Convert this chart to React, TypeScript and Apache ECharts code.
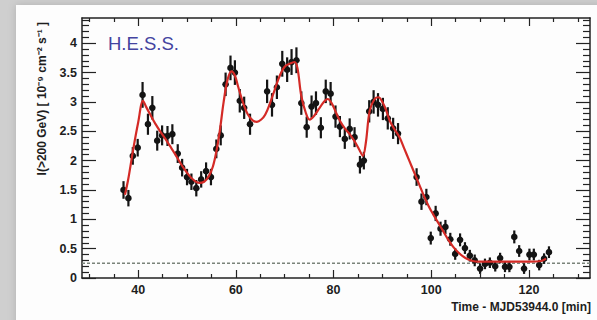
import { useEffect, useRef } from "react";
import * as echarts from "echarts";

// ---- data ----
const times = [
  37.0, 38.0, 38.9, 39.9, 40.9, 42.0, 42.9, 43.9, 44.9, 46.0, 47.0, 48.1, 49.0, 50.0, 50.9, 51.9,
  52.9, 53.9, 54.9, 56.0, 56.9, 57.9, 58.9, 59.8, 60.8, 61.7, 62.9,
  66.4, 67.4, 68.4, 69.5, 70.5, 71.4, 72.4, 73.4, 74.5, 75.5, 76.4, 77.4, 78.4, 79.4, 80.4,
  81.3, 82.3, 83.3, 84.3, 85.4, 86.2, 87.3, 88.2, 89.1, 90.1, 91.1, 92.2, 93.2,
  97.0, 98.0, 99.0, 99.9, 100.9, 101.9, 102.9, 103.9, 104.9, 105.9, 106.9, 107.9, 108.9,
  110.0, 111.0, 112.0, 113.1, 114.1, 115.1, 116.0, 117.0, 118.0, 119.0, 120.1, 121.0, 122.1,
  123.1, 124.1,
];
const fluxes = [
  1.5, 1.36, 2.08, 2.22, 3.12, 2.62, 2.9, 2.34, 2.43, 2.42, 2.45, 2.12, 1.88, 1.72, 1.64, 1.53,
  1.68, 1.82, 1.72, 2.2, 2.43, 3.3, 3.58, 3.5, 3.02, 2.9, 2.62,
  3.18, 2.95, 3.25, 3.65, 3.55, 3.68, 3.71, 2.98, 2.57, 2.92, 2.98, 2.56, 3.18, 3.14, 2.75,
  2.58, 2.37, 2.54, 2.4, 1.93, 2.0, 2.84, 3.0, 2.95, 2.88, 2.72, 2.55, 2.46,
  1.72, 1.3, 1.38, 0.68, 1.1, 0.84, 0.87, 0.66, 0.41, 0.65, 0.51, 0.38, 0.3,
  0.16, 0.24, 0.26, 0.2, 0.34, 0.19, 0.19, 0.7, 0.46, 0.16, 0.4, 0.4, 0.22,
  0.33, 0.44,
];
const errors = [
  0.15, 0.14, 0.15, 0.15, 0.22, 0.18, 0.2, 0.17, 0.17, 0.17, 0.17, 0.16, 0.15, 0.14, 0.14, 0.14,
  0.14, 0.15, 0.14, 0.16, 0.17, 0.2, 0.21, 0.21, 0.2, 0.19, 0.18,
  0.2, 0.2, 0.2, 0.22, 0.21, 0.22, 0.22, 0.2, 0.18, 0.19, 0.2, 0.18, 0.2, 0.2, 0.19,
  0.18, 0.17, 0.18, 0.17, 0.15, 0.15, 0.19, 0.2, 0.2, 0.19, 0.19, 0.18, 0.18,
  0.15, 0.14, 0.14, 0.11, 0.13, 0.12, 0.12, 0.11, 0.1, 0.11, 0.1, 0.1, 0.1,
  0.09, 0.09, 0.09, 0.09, 0.09, 0.09, 0.09, 0.11, 0.1, 0.09, 0.1, 0.1, 0.09,
  0.09, 0.1,
];
const timeHalfWidth = 0.5;

const fitTimes = [
  37.3, 38.0, 39.0, 40.0, 41.0, 41.6, 42.5, 43.5, 44.5, 45.5, 46.5, 47.5, 48.5, 49.5, 50.5, 51.5,
  52.5, 53.5, 54.5, 55.3, 56.0, 56.7, 57.5, 58.3, 59.1, 59.8, 60.5, 61.5, 62.5, 63.5, 64.3, 65.2,
  66.0, 67.0, 68.0, 69.0, 70.0, 71.0, 72.0, 72.6, 73.4, 74.3, 75.1, 76.0, 77.0, 78.0, 78.8, 79.6,
  80.5, 81.3, 82.3, 83.3, 84.3, 85.3, 86.0, 86.6, 87.4, 88.4, 89.2, 90.0, 90.8, 91.5, 92.5, 93.5,
  94.5, 95.5, 96.5, 97.5, 98.5, 99.5, 100.5, 101.5, 102.5, 103.5, 104.5, 105.5, 106.5, 107.5,
  108.5, 109.5, 111.0, 114.0, 117.0, 120.0, 122.5, 123.5,
];
const fitValues = [
  1.42, 1.7, 2.2, 2.65, 3.02, 2.92, 2.78, 2.63, 2.5, 2.38, 2.25, 2.12, 1.98, 1.85, 1.74, 1.66,
  1.62, 1.64, 1.74, 1.9, 2.15, 2.5, 3.0, 3.38, 3.52, 3.45, 3.25, 2.98, 2.78, 2.68, 2.66, 2.7,
  2.78, 2.98, 3.22, 3.45, 3.6, 3.65, 3.68, 3.58, 3.1, 2.82, 2.7, 2.76, 2.88, 3.0, 3.05, 2.98,
  2.82, 2.68, 2.55, 2.45, 2.33, 2.18, 2.08, 2.3, 2.85, 3.05, 3.08, 3.0, 2.85, 2.68, 2.53, 2.4,
  2.2, 2.0, 1.8, 1.6, 1.4, 1.22, 1.07, 0.93, 0.79, 0.65, 0.53, 0.44, 0.37, 0.32,
  0.29, 0.28, 0.28, 0.28, 0.28, 0.28, 0.29, 0.33,
];
const baselineLevel = 0.25;

const xLabelValues = [40, 60, 80, 100, 120];
const xMinorValues = [30, 35, 45, 50, 55, 65, 70, 75, 85, 90, 95, 105, 110, 115, 125, 130];
const yLabelValues = [0, 0.5, 1, 1.5, 2, 2.5, 3, 3.5, 4];
const yMinorValues = [
  0.1, 0.2, 0.3, 0.4, 0.6, 0.7, 0.8, 0.9, 1.1, 1.2, 1.3, 1.4, 1.6, 1.7, 1.8, 1.9, 2.1, 2.2, 2.3,
  2.4, 2.6, 2.7, 2.8, 2.9, 3.1, 3.2, 3.3, 3.4, 3.6, 3.7, 3.8, 3.9, 4.1, 4.2, 4.3, 4.4,
];

const xTitle = "Time - MJD53944.0 [min]";
const yTitle = "I(>200 GeV) [ 10⁻⁹ cm⁻² s⁻¹ ]";
const experiment = "H.E.S.S.";

const X_MIN = 28.5;
const X_MAX = 132.5;
const Y_MIN = 0;
const Y_MAX = 4.43;

const FONT = "'Liberation Sans', Arial, Helvetica, sans-serif";
const AXIS_COLOR = "#222";

function xAxisDef(position: string, ticks: number[], len: number, line: boolean, labels: boolean) {
  return {
    type: "value",
    position,
    min: X_MIN,
    max: X_MAX,
    splitLine: { show: false },
    axisLine: { show: line, onZero: false, lineStyle: { color: AXIS_COLOR, width: 1.5 } },
    axisTick: {
      show: true,
      inside: true,
      length: len,
      customValues: ticks,
      lineStyle: { color: AXIS_COLOR, width: 1.2 },
    },
    axisLabel: labels
      ? {
          show: true,
          customValues: xLabelValues,
          margin: 5,
          color: "#1e1e1e",
          fontFamily: FONT,
          fontWeight: "bold",
          fontSize: 12.5,
        }
      : { show: false },
  };
}

function yAxisDef(position: string, ticks: number[], len: number, line: boolean, labels: boolean) {
  return {
    type: "value",
    position,
    min: Y_MIN,
    max: Y_MAX,
    splitLine: { show: false },
    axisLine: { show: line, onZero: false, lineStyle: { color: AXIS_COLOR, width: 1.5 } },
    axisTick: {
      show: true,
      inside: true,
      length: len,
      customValues: ticks,
      lineStyle: { color: AXIS_COLOR, width: 1.2 },
    },
    axisLabel: labels
      ? {
          show: true,
          customValues: yLabelValues,
          margin: 5,
          color: "#1e1e1e",
          fontFamily: FONT,
          fontWeight: "bold",
          fontSize: 12.5,
        }
      : { show: false },
  };
}

export default function App() {
  const ref = useRef<HTMLDivElement>(null);

  useEffect(() => {
    if (!ref.current) return;
    const chart = echarts.init(ref.current, null, { renderer: "svg" });

    const points = times.map((t, i) => [t, fluxes[i], errors[i]]);
    const fit = fitTimes.map((t, i) => [t, fitValues[i]]);

    chart.setOption({
      animation: false,
      backgroundColor: "#cfcfcf",
      grid: { left: 82, right: 7, top: 18, bottom: 42, containLabel: false, outerBoundsMode: "none" },
      xAxis: [
        xAxisDef("bottom", xLabelValues, 8, true, true),
        xAxisDef("bottom", xMinorValues, 4, false, false),
        xAxisDef("top", xLabelValues, 8, true, false),
        xAxisDef("top", xMinorValues, 4, false, false),
      ],
      yAxis: [
        yAxisDef("left", yLabelValues, 14, true, true),
        yAxisDef("left", yMinorValues, 7, false, false),
        yAxisDef("right", yLabelValues, 14, true, false),
        yAxisDef("right", yMinorValues, 7, false, false),
      ],
      graphic: [
        {
          type: "rect",
          z: -10,
          silent: true,
          shape: { x: 16, y: 5, width: 600, height: 330 },
          style: { fill: "#fdfdfd", shadowBlur: 8, shadowColor: "rgba(0,0,0,0.15)" },
        },
        {
          type: "text",
          x: 108,
          y: 43,
          style: {
            text: experiment,
            fill: "#4444a0",
            fontFamily: FONT,
            fontSize: 18.5,
            textAlign: "left",
            verticalAlign: "middle",
          },
        },
        {
          type: "text",
          x: 591,
          y: 307,
          style: {
            text: xTitle,
            fill: "#1e1e1e",
            fontFamily: FONT,
            fontWeight: "bold",
            fontSize: 12,
            textAlign: "right",
            verticalAlign: "middle",
          },
        },
        {
          type: "text",
          x: 42,
          y: 22,
          rotation: Math.PI / 2,
          style: {
            text: yTitle,
            fill: "#1e1e1e",
            fontFamily: FONT,
            fontWeight: "bold",
            fontSize: 12,
            textAlign: "right",
            verticalAlign: "middle",
          },
        },
      ],
      series: [
        {
          type: "line",
          xAxisIndex: 0,
          yAxisIndex: 0,
          data: [
            [X_MIN, baselineLevel],
            [X_MAX, baselineLevel],
          ],
          showSymbol: false,
          silent: true,
          lineStyle: { color: "#7a837a", width: 1.5, type: [3, 2] },
          z: 2,
        },
        {
          type: "custom",
          xAxisIndex: 0,
          yAxisIndex: 0,
          data: points,
          z: 3,
          renderItem: (_params: any, api: any) => {
            const t = api.value(0);
            const v = api.value(1);
            const e = api.value(2);
            const c = api.coord([t, v]);
            const top = api.coord([t, v + e]);
            const bot = api.coord([t, v - e]);
            const l = api.coord([t - timeHalfWidth, v]);
            const r = api.coord([t + timeHalfWidth, v]);
            return {
              type: "group",
              children: [
                {
                  type: "line",
                  shape: { x1: top[0], y1: top[1], x2: bot[0], y2: bot[1] },
                  style: { stroke: "#141414", lineWidth: 2.2 },
                },
                {
                  type: "line",
                  shape: { x1: l[0], y1: l[1], x2: r[0], y2: r[1] },
                  style: { stroke: "#141414", lineWidth: 2.2 },
                },
                {
                  type: "circle",
                  shape: { cx: c[0], cy: c[1], r: 3.3 },
                  style: { fill: "#141414" },
                },
              ],
            };
          },
        },
        {
          type: "line",
          xAxisIndex: 0,
          yAxisIndex: 0,
          data: fit,
          smooth: 0.35,
          showSymbol: false,
          silent: true,
          lineStyle: { color: "#d42a26", width: 2.2 },
          z: 4,
        },
      ],
    });

    return () => chart.dispose();
  }, []);

  return (
    <div
      ref={ref}
      style={{ position: "absolute", left: 0, top: 0, width: 597, height: 320 }}
    />
  );
}
